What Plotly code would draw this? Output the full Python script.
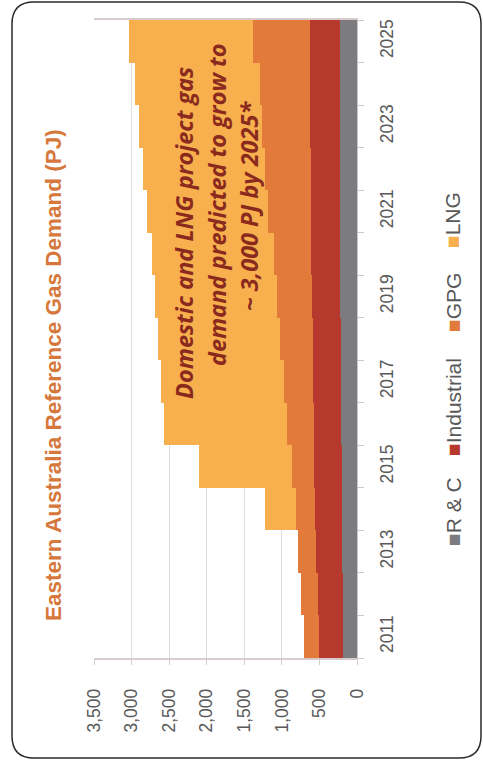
import plotly.graph_objects as go

# Eastern Australia reference gas demand by sector (PJ)
years = list(range(2011, 2026))
rc = [185, 188, 195, 200, 205, 210, 214, 218, 220, 222, 224, 226, 228, 230, 232]
industrial = [320, 337, 347, 355, 364, 368, 372, 373, 380, 385, 386, 392, 394, 398, 398]
gpg = [200, 217, 243, 255, 297, 347, 391, 439, 466, 493, 570, 602, 638, 662, 760]
lng = [0, 0, 0, 420, 1234, 1645, 1633, 1620, 1624, 1630, 1610, 1630, 1640, 1660, 1640]

series_names = ["R & C", "Industrial", "GPG", "LNG"]
series_values = [rc, industrial, gpg, lng]
series_colors = ["#7b7b80", "#b7382c", "#e17a3a", "#f8b04e"]

value_ticks = [0, 500, 1000, 1500, 2000, 2500, 3000, 3500]
year_labels = years[::2]

W, H = 483, 771
ML, MR, MT, MB = 94, 126, 20, 113
PW, PH = W - ML - MR, H - MT - MB


def px(x):
    return (x - ML) / PW


def py(y):
    return (H - MB - y) / PH


fig = go.Figure()
for name, vals, col in zip(series_names, series_values, series_colors):
    fig.add_trace(go.Bar(
        y=years, x=vals, name=name, orientation="h",
        marker=dict(color=col, line=dict(width=0)),
        showlegend=False,
    ))

tick_font = dict(family="Liberation Sans, Arial", size=17.5, color="#595959")

fig.update_layout(
    width=W, height=H,
    margin=dict(l=ML, r=MR, t=MT, b=MB),
    paper_bgcolor="white", plot_bgcolor="white",
    barmode="stack", bargap=0,
    xaxis=dict(
        range=[3500, 0], tickvals=value_ticks, tickformat=",",
        tickangle=-90, tickfont=tick_font,
        showgrid=True, gridcolor="#dcdcdc", gridwidth=1,
        zeroline=False, showline=True, linecolor="#d6cccc", linewidth=1.5,
        mirror=True, ticks="outside", ticklen=5, tickcolor="#d6cccc",
        ticklabelstandoff=17,
    ),
    yaxis=dict(
        range=[years[0] - 0.5, years[-1] + 0.5], side="right",
        tickvals=year_labels, ticktext=[str(y) for y in year_labels],
        tickangle=-90, tickfont=tick_font, ticks="",
        showgrid=False, zeroline=False, showline=True,
        linecolor="#c8c8c8", linewidth=1,
        minor=dict(tickvals=[y - 0.5 for y in years] + [years[-1] + 0.5],
                   ticks="outside", ticklen=6, tickcolor="#c8c8c8", showgrid=False),
        ticklabelstandoff=14,
    ),
)

# Title (rotated with the chart)
fig.add_annotation(
    text="Eastern Australia Reference Gas Demand (PJ)",
    xref="paper", yref="paper", x=px(53), y=py(375),
    textangle=-90, showarrow=False, xanchor="center", yanchor="middle",
    font=dict(family="Liberation Sans, Arial", size=22.5,
              color="#d6783c", weight="bold"),
)

# Callout text inside the LNG area
callout = [
    ("Domestic and LNG project gas", 184, 233),
    ("demand predicted to grow to", 217, 205),
    ("~ 3,000 PJ by 2025*", 249, 206),
]
for line, cx, cy in callout:
    fig.add_annotation(
        text=line, xref="paper", yref="paper", x=px(cx), y=py(cy),
        textangle=-90, showarrow=False, xanchor="center", yanchor="middle",
        font=dict(family="Open Sans", size=23.5, color="#8a2a1e",
                  weight="bold", style="italic"),
    )

# Legend drawn as rotated text with coloured squares
legend_pos = [512, 407, 303, 220]
for name, col, cy in zip(series_names, series_colors, legend_pos):
    fig.add_annotation(
        text=f'<span style="color:{col}">■</span>{name}',
        xref="paper", yref="paper", x=px(453), y=py(cy),
        textangle=-90, showarrow=False, xanchor="center", yanchor="middle",
        font=dict(family="Liberation Sans, Arial", size=21, color="#595959"),
    )

# Rounded frame around the chart
x0, y0, x1, y1, r = 12, 2, 481, 758, 22
path = (f"M {px(x0 + r)} {py(y0)} L {px(x1 - r)} {py(y0)} "
        f"Q {px(x1)} {py(y0)} {px(x1)} {py(y0 + r)} "
        f"L {px(x1)} {py(y1 - r)} Q {px(x1)} {py(y1)} {px(x1 - r)} {py(y1)} "
        f"L {px(x0 + r)} {py(y1)} Q {px(x0)} {py(y1)} {px(x0)} {py(y1 - r)} "
        f"L {px(x0)} {py(y0 + r)} Q {px(x0)} {py(y0)} {px(x0 + r)} {py(y0)} Z")
fig.add_shape(type="path", path=path, xref="paper", yref="paper",
              line=dict(color="#2a2a2a", width=1.5), fillcolor="rgba(0,0,0,0)",
              layer="above")

fig.write_html("out.html")
